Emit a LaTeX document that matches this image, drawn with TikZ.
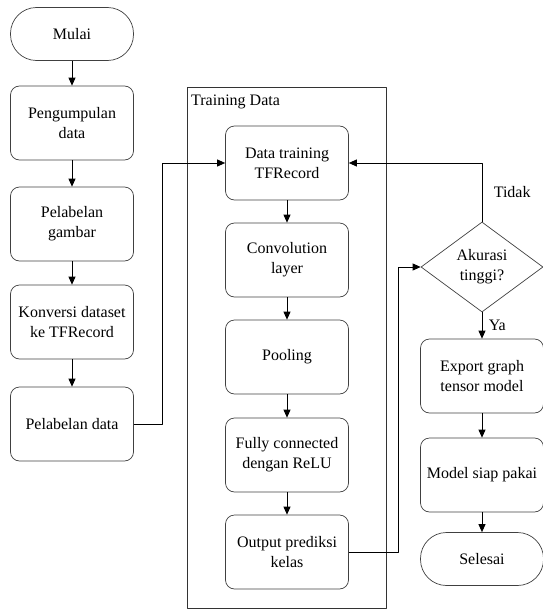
\documentclass[tikz,border=0pt]{standalone}
\usepackage{fontspec}
\setmainfont{Liberation Serif}
\usetikzlibrary{shapes.geometric,arrows.meta}
\begin{document}
\begin{tikzpicture}[x=1pt, y=-1pt, font=\fontsize{16}{20}\selectfont, line join=round, >={Triangle[length=8pt,width=7pt]},
	proc/.style={draw=black!75, line width=0.7pt, rectangle, rounded corners=9pt, minimum width=123pt, minimum height=74pt, align=center, inner sep=2pt},
	term/.style={draw=black!75, line width=0.7pt, rectangle, rounded corners=26pt, minimum width=123pt, minimum height=53pt, align=center},
	decis/.style={draw=black!75, line width=0.7pt, diamond, minimum width=122pt, minimum height=90pt, inner sep=0pt, align=center},
	flow/.style={->, black, line width=0.9pt}]
	\useasboundingbox (0,0) rectangle (543,613);
	\def\xa{72}\def\xb{287}\def\xc{482}
	% kolom kiri
	\node[term] (mulai) at (\xa,34) {Mulai};
	\node[proc] (kumpul) at (\xa,123) {Pengumpulan\\data};
	\node[proc] (gambar) at (\xa,224) {Pelabelan\\gambar};
	\node[proc] (konversi) at (\xa,322) {Konversi dataset\\ke TFRecord};
	\node[proc] (labeldata) at (\xa,424) {Pelabelan data};
	% training data
	\draw[black!80, line width=0.8pt] (187,87) rectangle (386,608);
	\node[anchor=west, inner sep=0pt] (judul) at (191,102) {Training Data};
	\node[proc] (dtrain) at (\xb,163) {Data training\\TFRecord};
	\node[proc] (konvolusi) at (\xb,260) {Convolution\\layer};
	\node[proc] (pooling) at (\xb,357) {Pooling};
	\node[proc] (fully) at (\xb,455) {Fully connected\\dengan ReLU};
	\node[proc] (output) at (\xb,552) {Output prediksi\\kelas};
	% kolom kanan
	\node[decis] (akurasi) at (\xc,267) {Akurasi\\tinggi?};
	\node[proc] (export) at (\xc,376) {Export graph\\tensor model};
	\node[proc] (siap) at (\xc,475) {Model siap pakai};
	\node[term] (selesai) at (\xc,559) {Selesai};
	% panah
	\draw[flow] (mulai) -- (kumpul);
	\draw[flow] (kumpul) -- (gambar);
	\draw[flow] (gambar) -- (konversi);
	\draw[flow] (konversi) -- (labeldata);
	\draw[flow] (labeldata.east) -- ++(29,0) |- (dtrain.west);
	\draw[flow] (dtrain) -- (konvolusi);
	\draw[flow] (konvolusi) -- (pooling);
	\draw[flow] (pooling) -- (fully);
	\draw[flow] (fully) -- (output);
	\draw[flow] (output.east) -- ++(50,0) |- (akurasi.west);
	\draw[flow] (akurasi.north) |- node[pos=0.25, right=8pt] {Tidak} (dtrain.east);
	\draw[flow] (akurasi.south) -- node[midway, right=3pt] {Ya} (export);
	\draw[flow] (export) -- (siap);
	\draw[flow] (siap) -- (selesai);
\end{tikzpicture}
\end{document}
